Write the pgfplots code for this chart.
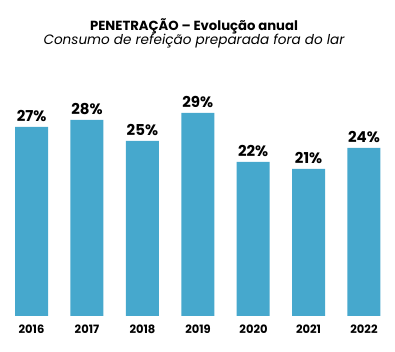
\documentclass[border=0pt]{standalone}
\usepackage{pgfplots}
\pgfplotsset{compat=1.18}
\usepackage{fontspec}
\setmainfont{Poppins}
\definecolor{barblue}{HTML}{46A8CD}
\begin{document}
\begin{tikzpicture}[x=1pt,y=1pt]
\path[use as bounding box] (0,0) rectangle (395,352);
\node[font=\fontsize{13.2}{15}\selectfont\bfseries] at (194,326) {PENETRAÇÃO – Evolução anual};
\node[font=\fontsize{13.6}{15}\selectfont\itshape] at (194,311) {Consumo de refeição preparada fora do lar};
\begin{axis}[
  at={(0,36pt)}, anchor=south west,
  scale only axis, width=395pt, height=224pt,
  xmin=-0.57, xmax=6.56, ymin=0, ymax=32,
  axis lines=none,
  clip=false,
  ybar, bar width=33pt,
  nodes near coords={\pgfmathprintnumber{\pgfplotspointmeta}\%},
  nodes near coords style={font=\fontsize{15}{17}\selectfont\bfseries, /pgf/number format/assume math mode=true, yshift=2pt},
]
\addplot[fill=barblue, draw=none] coordinates {(0,27) (1,28) (2,25) (3,29) (4,22) (5,21) (6,24)};
\end{axis}
\foreach \x/\l in {31.5/2016,87/2017,142.5/2018,198/2019,253.5/2020,308.5/2021,364/2022}
  \node[font=\fontsize{11.5}{13}\selectfont\bfseries] at (\x,23) {\l};
\end{tikzpicture}
\end{document}
